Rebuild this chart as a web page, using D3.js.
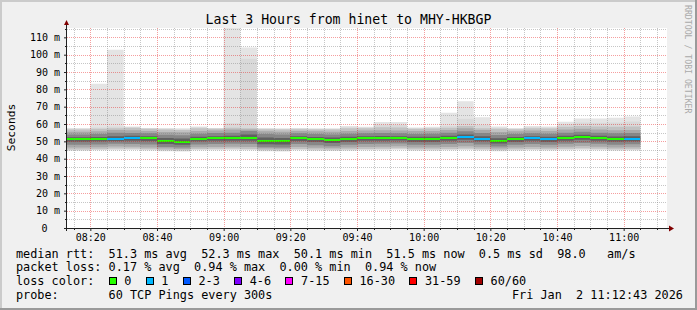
<!DOCTYPE html>
<html>
<head>
<meta charset="utf-8">
<script src="https://cdn.jsdelivr.net/npm/d3@7"></script>
<style>
  html, body { margin: 0; padding: 0; background: #f0f0f0; }
  svg { display: block; font-family: "DejaVu Sans Mono", monospace; }
</style>
</head>
<body>
<svg id="chart" width="697" height="310"></svg>
<script>
// 5 minute bins (start times), one per smoke column
const binTimes = ["08:10","08:15","08:20","08:25","08:30","08:35","08:40","08:45","08:50","08:55",
  "09:00","09:05","09:10","09:15","09:20","09:25","09:30","09:35","09:40","09:45",
  "09:50","09:55","10:00","10:05","10:10","10:15","10:20","10:25","10:30","10:35",
  "10:40","10:45","10:50","10:55","11:00"];

// median rtt (ms) and lost pings (of 60) per bin
const median = [51.1,51.1,51.1,51.1,51.8,51.7,50.4,49.7,51.1,51.7,51.7,51.7,50.4,50.4,51.7,51.1,50.6,51.1,51.7,51.7,
  51.7,51.1,51.1,51.7,52.3,51.1,50.1,51.1,51.7,51.1,51.7,52.3,51.7,51.1,51.5];
const lossCount = [0,0,0,1,1,0,0,0,0,0,0,0,0,0,0,0,0,0,0,0,0,0,0,0,1,1,0,0,1,1,0,0,0,0,1];

// smoke: rtt quantiles (ms) per bin
const smokeMin = [44.6,44.6,44.8,44.9,45.0,44.7,44.3,44.2,44.8,44.9,45.0,44.8,44.3,44.2,44.8,44.5,44.4,44.6,44.8,44.9,
  45.2,44.6,44.6,44.8,45.0,44.7,44.3,44.6,44.8,44.7,44.9,45.1,44.9,44.6,44.7];
const smokeP03 = [44.9,44.9,45.1,45.3,45.4,45.1,44.6,44.5,45.2,45.3,45.4,45.2,44.6,44.5,45.2,44.9,44.7,45.0,45.2,45.3,
  45.6,45.0,45.0,45.2,45.4,45.1,44.6,45.0,45.2,45.1,45.3,45.5,45.3,45.0,45.1];
const smokeP06 = [45.3,45.3,45.5,45.8,45.8,45.5,45.0,44.9,45.6,45.7,45.8,45.6,45.0,44.9,45.6,45.3,45.1,45.4,45.6,45.7,
  46.0,45.4,45.4,45.6,45.9,45.5,45.0,45.4,45.6,45.5,45.7,46.0,45.7,45.4,45.5];
const smokeP14 = [46.4,46.4,46.6,47.0,46.9,46.5,45.8,45.6,46.6,46.8,46.9,46.8,45.8,45.7,46.8,46.3,46.0,46.4,46.8,46.9,
  47.2,46.4,46.4,46.8,47.2,46.6,45.9,46.4,46.8,46.5,46.9,47.3,46.9,46.5,46.6];
const smokeP26 = [48.0,48.0,48.2,48.6,48.5,48.2,46.8,46.4,48.2,48.5,48.6,48.4,46.6,46.5,48.4,47.8,47.2,48.0,48.5,48.6,
  48.8,48.0,48.0,48.5,49.0,48.2,47.0,48.0,48.4,48.0,48.6,49.1,48.6,48.1,48.3];
const smokeP38 = [49.9,49.9,50.0,50.2,50.4,50.2,48.5,48.0,50.0,50.3,50.4,50.3,48.3,48.2,50.2,49.7,49.0,49.8,50.3,50.4,
  50.5,49.8,49.8,50.3,50.9,50.0,48.8,49.8,50.3,49.8,50.4,50.9,50.4,49.9,50.1];
const smokeP62 = [52.4,52.4,52.5,53.0,53.2,53.0,52.0,51.6,52.6,53.0,53.2,54.0,52.2,52.0,53.0,52.5,52.2,52.6,53.0,53.1,
  53.0,52.6,52.6,53.2,54.0,53.0,51.8,52.5,53.0,52.6,53.2,53.8,53.2,52.8,53.0];
const smokeP74 = [54.0,54.0,54.2,55.0,54.8,54.6,53.8,53.5,54.4,54.8,55.0,55.9,54.2,54.0,54.6,54.2,54.0,54.4,54.7,54.8,
  54.7,54.3,54.4,55.0,55.8,54.8,53.6,54.2,54.6,54.4,55.0,55.6,55.0,54.6,54.8];
const smokeP86 = [55.6,55.6,55.8,56.5,56.4,56.0,55.4,55.2,56.0,56.2,56.8,56.8,55.8,55.6,56.0,55.8,55.6,56.0,56.2,56.4,
  56.3,55.9,56.0,56.6,57.6,56.6,55.4,55.8,56.2,56.0,56.8,57.2,56.8,56.4,56.6];
const smokeP94 = [56.9,56.9,57.2,57.6,57.8,57.2,56.8,56.6,57.6,57.2,57.8,57.6,57.0,56.8,57.0,56.8,56.8,57.6,57.5,58.2,
  58.0,57.2,57.4,57.8,58.8,57.6,57.2,57.0,57.6,57.4,58.4,58.8,58.6,58.4,58.6];
const smokeP97 = [57.3,57.3,58.0,58.6,58.2,57.5,57.2,57.0,58.1,57.5,60.5,97.7,57.3,57.1,57.4,57.1,57.1,58.2,58.0,59.6,
  59.5,57.6,57.9,59.0,63.0,59.5,57.9,57.3,58.2,58.0,59.8,60.9,60.8,60.9,61.4];
const smokeMax = [57.7,57.7,83.3,102.9,58.6,57.7,57.7,57.5,58.6,57.7,125,104.2,57.7,57.5,57.7,57.5,57.5,58.8,58.4,61.2,
  61.2,58.0,58.4,66.5,73.1,63.9,58.6,57.7,58.8,58.6,61.3,63.2,63.2,63.6,64.4];

// loss colour legend
const lossLabels = ["0","1","2-3","4-6","7-15","16-30","31-59","60/60"];
const lossUpper  = [0, 1, 3, 6, 15, 30, 59, 60];
const lossColors = ["#26ff00","#00b8ff","#0059ff","#7e00ff","#ff00ff","#ff5500","#ff0000","#a10000"];

// summary stats
const rttStats  = [51.3, 52.3, 50.1, 51.5];   // avg max min now
const rttSd = 0.5, rttAms = 98.0;
const lossStats = [0.17, 0.94, 0.00, 0.94];   // avg max min now

const W = 697, H = 310;
const plot = { left: 67, top: 28, width: 600, height: 200 };
const parseT = d3.timeParse("%Y-%m-%d %H:%M");
const day = "2026-01-02 ";
const tStart = parseT(day + "08:13"), tEnd = parseT(day + "11:13");

const x = d3.scaleTime().domain([tStart, tEnd]).range([plot.left, plot.left + plot.width]);
const y = d3.scaleLinear().domain([0, 115.4]).range([plot.top + plot.height, plot.top]);

const svg = d3.select("#chart");

// background + 3d frame
svg.append("rect").attr("width", W).attr("height", H).attr("fill", "#f0f0f0");
svg.append("rect").attr("width", W).attr("height", 2).attr("fill", "#cbcbcb");
svg.append("rect").attr("width", 2).attr("height", H).attr("fill", "#cbcbcb");
svg.append("rect").attr("y", H - 2).attr("width", W).attr("height", 2).attr("fill", "#9a9a9a");
svg.append("rect").attr("x", W - 2).attr("width", 2).attr("height", H).attr("fill", "#9a9a9a");

// canvas
svg.append("rect")
  .attr("x", plot.left).attr("y", plot.top)
  .attr("width", plot.width).attr("height", plot.height)
  .attr("fill", "#ffffff");

svg.append("defs").append("clipPath").attr("id", "clip")
  .append("rect")
  .attr("x", plot.left).attr("y", plot.top)
  .attr("width", plot.width).attr("height", plot.height);

const g = svg.append("g").attr("clip-path", "url(#clip)");

// smoke layers, outer (light) to inner (dark)
const bins = binTimes.map((t, i) => ({ t: parseT(day + t), i }));
const binEnd = d3.timeMinute.offset(bins[bins.length - 1].t, 5);
const pts = bins.concat([{ t: binEnd, i: bins.length - 1 }]);

const layers = [
  { lo: smokeMin, hi: smokeMax, color: "#e4e4e4" },
  { lo: smokeP03, hi: smokeP97, color: "#d9d9d9" },
  { lo: smokeP06, hi: smokeP94, color: "#c2c2c2" },
  { lo: smokeP14, hi: smokeP86, color: "#a8a8a8" },
  { lo: smokeP26, hi: smokeP74, color: "#878787" },
  { lo: smokeP38, hi: smokeP62, color: "#606060" }
];

layers.forEach(L => {
  const area = d3.area()
    .curve(d3.curveStepAfter)
    .x(d => x(d.t))
    .y0(d => y(L.lo[d.i]))
    .y1(d => y(L.hi[d.i]));
  g.append("path").datum(pts).attr("d", area).attr("fill", L.color);
});

// median, coloured by loss
const lossColor = n => lossColors[lossUpper.findIndex(u => n <= u)];

g.selectAll("rect.median")
  .data(bins)
  .join("rect")
  .attr("class", "median")
  .attr("x", d => x(d.t))
  .attr("width", d => x(d3.timeMinute.offset(d.t, 5)) - x(d.t))
  .attr("y", d => y(median[d.i]) - 1)
  .attr("height", 2)
  .attr("fill", d => lossColor(lossCount[d.i]))
  .attr("shape-rendering", "crispEdges");

// grid on top
const grid = svg.append("g").attr("stroke-dasharray", "1,1").attr("shape-rendering", "crispEdges");
const minorCol = "rgba(128,128,128,0.45)", majorCol = "rgba(230,0,0,0.38)";

const vTimes = d3.timeMinute.every(5).range(tStart, tEnd);
grid.selectAll("line.v")
  .data(vTimes)
  .join("line")
  .attr("x1", d => Math.round(x(d)) + 0.5).attr("x2", d => Math.round(x(d)) + 0.5)
  .attr("y1", plot.top).attr("y2", plot.top + plot.height)
  .attr("stroke", d => d.getMinutes() % 20 === 0 ? majorCol : minorCol);

const hVals = d3.range(5, 116, 5);
grid.selectAll("line.h")
  .data(hVals)
  .join("line")
  .attr("x1", plot.left).attr("x2", plot.left + plot.width)
  .attr("y1", d => Math.round(y(d)) + 0.5).attr("y2", d => Math.round(y(d)) + 0.5)
  .attr("stroke", d => d % 10 === 0 ? majorCol : minorCol);

// axes
const axisCol = "#212121";
const majorTimes = vTimes.filter(d => d.getMinutes() % 20 === 0);

const xAxis = svg.append("g")
  .attr("transform", `translate(0,${plot.top + plot.height})`)
  .call(d3.axisBottom(x).tickValues(majorTimes).tickFormat(d3.timeFormat("%H:%M"))
    .tickSize(3).tickPadding(3).tickSizeOuter(0));
xAxis.select(".domain").remove();

const yAxis = svg.append("g")
  .attr("transform", `translate(${plot.left},0)`)
  .call(d3.axisLeft(y).tickValues(d3.range(0, 111, 10))
    .tickFormat(v => v === 0 ? "0" : v + " m")
    .tickSize(3).tickPadding(4).tickSizeOuter(0));
yAxis.select(".domain").remove();
yAxis.selectAll(".tick text").filter(d => d === 0).attr("dx", -12.6);

[xAxis, yAxis].forEach(a => {
  a.attr("font-family", "DejaVu Sans Mono").attr("font-size", 10);
  a.selectAll(".tick line").attr("stroke", axisCol);
  a.selectAll(".tick text").attr("fill", "#000");
});

// minor ticks
svg.append("g").selectAll("line")
  .data(vTimes.filter(d => d.getMinutes() % 20 !== 0))
  .join("line")
  .attr("x1", d => Math.round(x(d)) + 0.5).attr("x2", d => Math.round(x(d)) + 0.5)
  .attr("y1", plot.top + plot.height).attr("y2", plot.top + plot.height + 2)
  .attr("stroke", axisCol);
svg.append("g").selectAll("line")
  .data(hVals.filter(v => v % 10 !== 0))
  .join("line")
  .attr("x1", plot.left - 2).attr("x2", plot.left)
  .attr("y1", d => Math.round(y(d)) + 0.5).attr("y2", d => Math.round(y(d)) + 0.5)
  .attr("stroke", axisCol);

// axis lines + arrows
const y0 = plot.top + plot.height + 0.5;
svg.append("line").attr("x1", plot.left - 3).attr("x2", plot.left + plot.width + 2)
  .attr("y1", y0).attr("y2", y0).attr("stroke", axisCol);
svg.append("line").attr("x1", plot.left - 0.5).attr("x2", plot.left - 0.5)
  .attr("y1", plot.top + plot.height + 3).attr("y2", plot.top - 4).attr("stroke", axisCol);
svg.append("path")
  .attr("d", `M${plot.left - 3},${plot.top - 3}L${plot.left + 2},${plot.top - 3}L${plot.left - 0.5},${plot.top - 8}Z`)
  .attr("fill", "#800000");
svg.append("path")
  .attr("d", `M${plot.left + plot.width + 2},${y0 - 3}L${plot.left + plot.width + 2},${y0 + 3}L${plot.left + plot.width + 7},${y0}Z`)
  .attr("fill", "#800000");

// title, unit label, watermark
svg.append("text")
  .attr("x", W / 2).attr("y", 23.8)
  .attr("text-anchor", "middle").attr("font-size", 13.2)
  .text("Last 3 Hours from hinet to MHY-HKBGP");

svg.append("text")
  .attr("transform", "translate(14.5,127.5) rotate(-90)")
  .attr("text-anchor", "middle").attr("font-size", 11.3)
  .text("Seconds");

svg.append("text")
  .attr("transform", "translate(684.5,5) rotate(90)")
  .attr("font-size", 8.2).attr("fill", "#aaaaaa")
  .text("RRDTOOL / TOBI OETIKER");

// legend
const legendFont = 11.83, charW = legendFont * 0.602;
const lineY = [257.7, 271.3, 285, 298.7];
const f1 = d3.format(".1f"), f2 = d3.format(".2f");

const legendLines = [
  `median rtt:  ${f1(rttStats[0])} ms avg  ${f1(rttStats[1])} ms max  ${f1(rttStats[2])} ms min  ${f1(rttStats[3])} ms now  ${f1(rttSd)} ms sd  ${f1(rttAms)}   am/s`,
  `packet loss: ${f2(lossStats[0])} % avg  ${f2(lossStats[1])} % max  ${f2(lossStats[2])} % min  ${f2(lossStats[3])} % now`,
  "loss color:",
  "probe:       60 TCP Pings every 300s"
];

const legend = svg.append("g").attr("font-size", legendFont);
legend.selectAll("text.line")
  .data(legendLines)
  .join("text")
  .attr("class", "line")
  .attr("x", 16).attr("y", (d, i) => lineY[i])
  .attr("xml:space", "preserve").style("white-space", "pre")
  .text(d => d);

let bx = 16 + 13 * charW;
lossLabels.forEach((lab, i) => {
  legend.append("rect")
    .attr("x", Math.round(bx) + 0.5).attr("y", 277.5)
    .attr("width", 7).attr("height", 7)
    .attr("fill", lossColors[i]).attr("stroke", "#000");
  legend.append("text")
    .attr("x", bx + 15.7).attr("y", lineY[2])
    .text(lab);
  bx += 15.7 + lab.length * charW + 2 * charW;
});

legend.append("text")
  .attr("x", 512).attr("y", lineY[3])
  .attr("xml:space", "preserve").style("white-space", "pre")
  .text("Fri Jan  2 11:12:43 2026");
</script>
</body>
</html>
